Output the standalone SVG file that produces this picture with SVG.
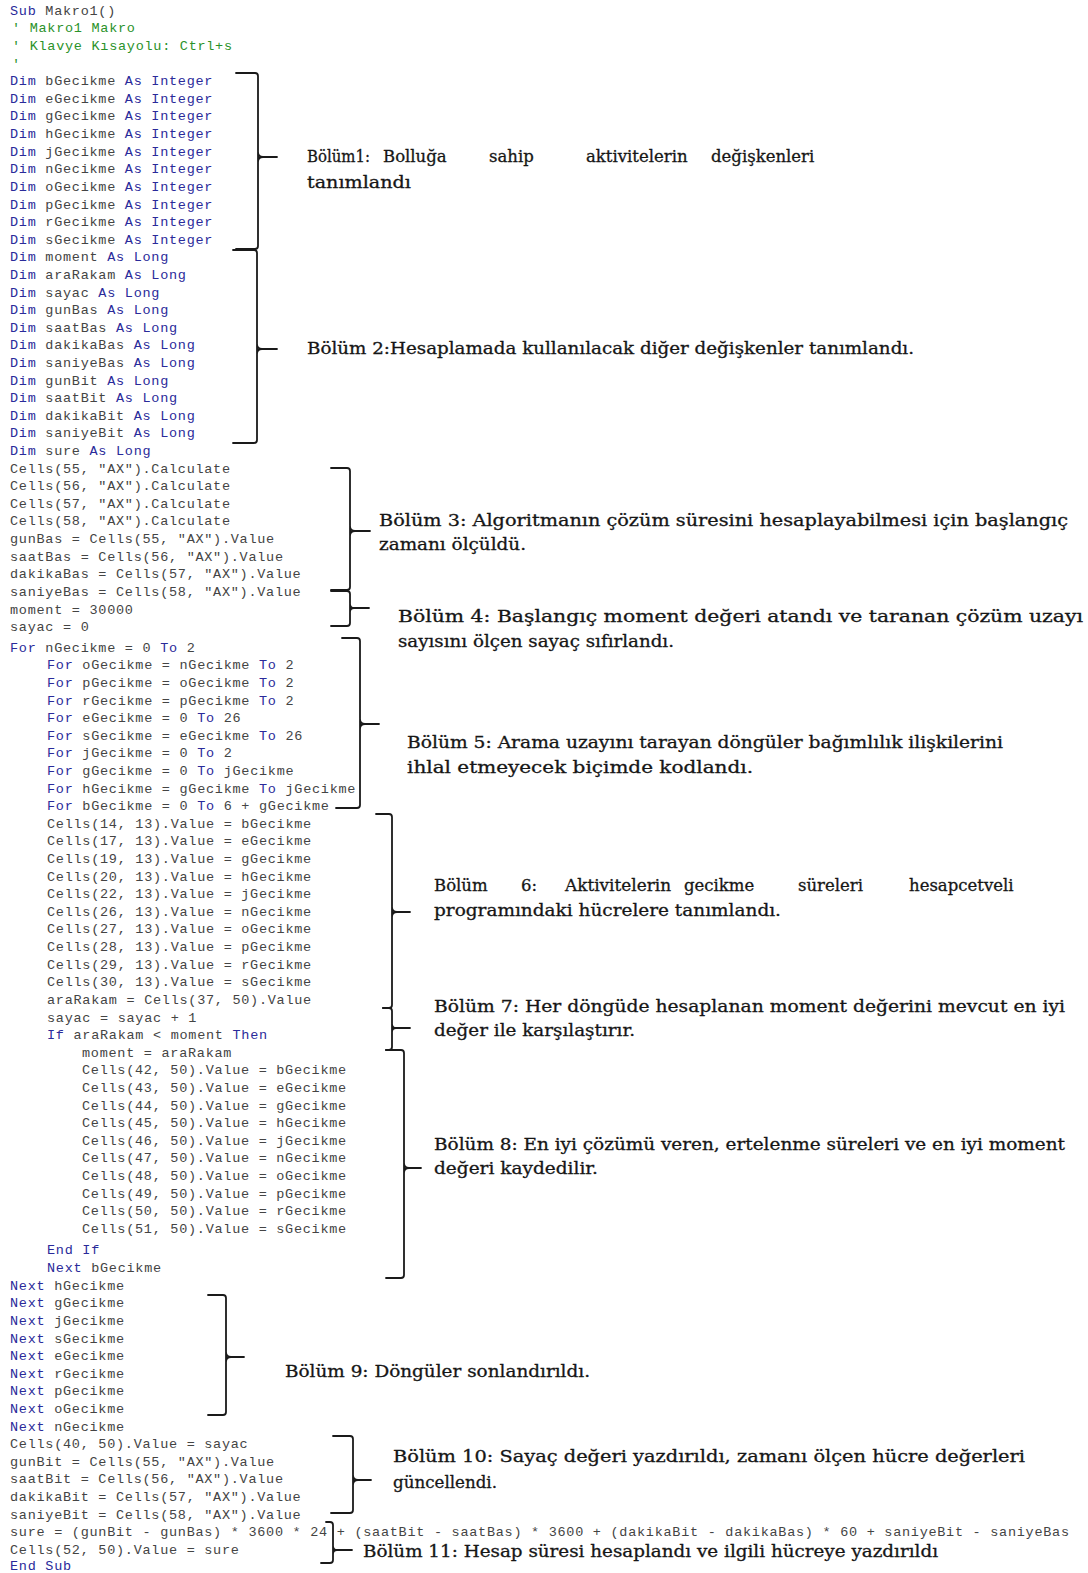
<svg xmlns="http://www.w3.org/2000/svg" width="1088" height="1573" viewBox="0 0 1088 1573">
<style>
.code{font-family:"Liberation Mono","DejaVu Sans Mono",monospace;font-size:13.5px;letter-spacing:0.73px;fill:#444444}
.k{fill:#2a2a9a}
.g{fill:#2a922a}
.br{fill:none;stroke:#1a1a1a;stroke-width:1.8;stroke-linecap:round;stroke-linejoin:round}
.ann{font-family:"DejaVu Serif","Liberation Serif",serif;font-size:16.5px;fill:#161616;stroke:#161616;stroke-width:0.3}
</style>
<rect width="1088" height="1573" fill="#ffffff"/>
<g id="code" class="code">
<text x="10" y="14.8"><tspan class="k">Sub</tspan> Makro1()</text>
<text x="12" y="32.4" class="g">' Makro1 Makro</text>
<text x="12" y="50" class="g">' Klavye Kısayolu: Ctrl+s</text>
<text x="12" y="67.6" class="g">'</text>
<text x="10" y="85.2"><tspan class="k">Dim</tspan> bGecikme <tspan class="k">As Integer</tspan></text>
<text x="10" y="102.8"><tspan class="k">Dim</tspan> eGecikme <tspan class="k">As Integer</tspan></text>
<text x="10" y="120.4"><tspan class="k">Dim</tspan> gGecikme <tspan class="k">As Integer</tspan></text>
<text x="10" y="138"><tspan class="k">Dim</tspan> hGecikme <tspan class="k">As Integer</tspan></text>
<text x="10" y="155.7"><tspan class="k">Dim</tspan> jGecikme <tspan class="k">As Integer</tspan></text>
<text x="10" y="173.3"><tspan class="k">Dim</tspan> nGecikme <tspan class="k">As Integer</tspan></text>
<text x="10" y="190.9"><tspan class="k">Dim</tspan> oGecikme <tspan class="k">As Integer</tspan></text>
<text x="10" y="208.5"><tspan class="k">Dim</tspan> pGecikme <tspan class="k">As Integer</tspan></text>
<text x="10" y="226.1"><tspan class="k">Dim</tspan> rGecikme <tspan class="k">As Integer</tspan></text>
<text x="10" y="243.7"><tspan class="k">Dim</tspan> sGecikme <tspan class="k">As Integer</tspan></text>
<text x="10" y="261.3"><tspan class="k">Dim</tspan> moment <tspan class="k">As Long</tspan></text>
<text x="10" y="278.9"><tspan class="k">Dim</tspan> araRakam <tspan class="k">As Long</tspan></text>
<text x="10" y="296.5"><tspan class="k">Dim</tspan> sayac <tspan class="k">As Long</tspan></text>
<text x="10" y="314.1"><tspan class="k">Dim</tspan> gunBas <tspan class="k">As Long</tspan></text>
<text x="10" y="331.7"><tspan class="k">Dim</tspan> saatBas <tspan class="k">As Long</tspan></text>
<text x="10" y="349.4"><tspan class="k">Dim</tspan> dakikaBas <tspan class="k">As Long</tspan></text>
<text x="10" y="367"><tspan class="k">Dim</tspan> saniyeBas <tspan class="k">As Long</tspan></text>
<text x="10" y="384.6"><tspan class="k">Dim</tspan> gunBit <tspan class="k">As Long</tspan></text>
<text x="10" y="402.2"><tspan class="k">Dim</tspan> saatBit <tspan class="k">As Long</tspan></text>
<text x="10" y="419.8"><tspan class="k">Dim</tspan> dakikaBit <tspan class="k">As Long</tspan></text>
<text x="10" y="437.4"><tspan class="k">Dim</tspan> saniyeBit <tspan class="k">As Long</tspan></text>
<text x="10" y="455"><tspan class="k">Dim</tspan> sure <tspan class="k">As Long</tspan></text>
<text x="10" y="472.6">Cells(55, "AX").Calculate</text>
<text x="10" y="490.2">Cells(56, "AX").Calculate</text>
<text x="10" y="507.8">Cells(57, "AX").Calculate</text>
<text x="10" y="525.4">Cells(58, "AX").Calculate</text>
<text x="10" y="543">gunBas = Cells(55, "AX").Value</text>
<text x="10" y="560.7">saatBas = Cells(56, "AX").Value</text>
<text x="10" y="578.3">dakikaBas = Cells(57, "AX").Value</text>
<text x="10" y="595.9">saniyeBas = Cells(58, "AX").Value</text>
<text x="10" y="613.5">moment = 30000</text>
<text x="10" y="631.1">sayac = 0</text>
<text x="10" y="651.7"><tspan class="k">For</tspan> nGecikme = 0 <tspan class="k">To</tspan> 2</text>
<text x="47" y="669.3"><tspan class="k">For</tspan> oGecikme = nGecikme <tspan class="k">To</tspan> 2</text>
<text x="47" y="686.9"><tspan class="k">For</tspan> pGecikme = oGecikme <tspan class="k">To</tspan> 2</text>
<text x="47" y="704.5"><tspan class="k">For</tspan> rGecikme = pGecikme <tspan class="k">To</tspan> 2</text>
<text x="47" y="722.1"><tspan class="k">For</tspan> eGecikme = 0 <tspan class="k">To</tspan> 26</text>
<text x="47" y="739.7"><tspan class="k">For</tspan> sGecikme = eGecikme <tspan class="k">To</tspan> 26</text>
<text x="47" y="757.4"><tspan class="k">For</tspan> jGecikme = 0 <tspan class="k">To</tspan> 2</text>
<text x="47" y="775"><tspan class="k">For</tspan> gGecikme = 0 <tspan class="k">To</tspan> jGecikme</text>
<text x="47" y="792.6"><tspan class="k">For</tspan> hGecikme = gGecikme <tspan class="k">To</tspan> jGecikme</text>
<text x="47" y="810.2"><tspan class="k">For</tspan> bGecikme = 0 <tspan class="k">To</tspan> 6 + gGecikme</text>
<text x="47" y="827.8">Cells(14, 13).Value = bGecikme</text>
<text x="47" y="845.4">Cells(17, 13).Value = eGecikme</text>
<text x="47" y="863">Cells(19, 13).Value = gGecikme</text>
<text x="47" y="880.6">Cells(20, 13).Value = hGecikme</text>
<text x="47" y="898.2">Cells(22, 13).Value = jGecikme</text>
<text x="47" y="915.8">Cells(26, 13).Value = nGecikme</text>
<text x="47" y="933.4">Cells(27, 13).Value = oGecikme</text>
<text x="47" y="951.1">Cells(28, 13).Value = pGecikme</text>
<text x="47" y="968.7">Cells(29, 13).Value = rGecikme</text>
<text x="47" y="986.3">Cells(30, 13).Value = sGecikme</text>
<text x="47" y="1003.9">araRakam = Cells(37, 50).Value</text>
<text x="47" y="1021.5">sayac = sayac + 1</text>
<text x="47" y="1039.1"><tspan class="k">If</tspan> araRakam &lt; moment <tspan class="k">Then</tspan></text>
<text x="82" y="1056.7">moment = araRakam</text>
<text x="82" y="1074.3">Cells(42, 50).Value = bGecikme</text>
<text x="82" y="1091.9">Cells(43, 50).Value = eGecikme</text>
<text x="82" y="1109.5">Cells(44, 50).Value = gGecikme</text>
<text x="82" y="1127.1">Cells(45, 50).Value = hGecikme</text>
<text x="82" y="1144.7">Cells(46, 50).Value = jGecikme</text>
<text x="82" y="1162.4">Cells(47, 50).Value = nGecikme</text>
<text x="82" y="1180">Cells(48, 50).Value = oGecikme</text>
<text x="82" y="1197.6">Cells(49, 50).Value = pGecikme</text>
<text x="82" y="1215.2">Cells(50, 50).Value = rGecikme</text>
<text x="82" y="1232.8">Cells(51, 50).Value = sGecikme</text>
<text x="47" y="1254.4" class="k">End If</text>
<text x="47" y="1272"><tspan class="k">Next</tspan> bGecikme</text>
<text x="10" y="1289.6"><tspan class="k">Next</tspan> hGecikme</text>
<text x="10" y="1307.2"><tspan class="k">Next</tspan> gGecikme</text>
<text x="10" y="1324.8"><tspan class="k">Next</tspan> jGecikme</text>
<text x="10" y="1342.5"><tspan class="k">Next</tspan> sGecikme</text>
<text x="10" y="1360.1"><tspan class="k">Next</tspan> eGecikme</text>
<text x="10" y="1377.7"><tspan class="k">Next</tspan> rGecikme</text>
<text x="10" y="1395.3"><tspan class="k">Next</tspan> pGecikme</text>
<text x="10" y="1412.9"><tspan class="k">Next</tspan> oGecikme</text>
<text x="10" y="1430.5"><tspan class="k">Next</tspan> nGecikme</text>
<text x="10" y="1448.1">Cells(40, 50).Value = sayac</text>
<text x="10" y="1465.7">gunBit = Cells(55, "AX").Value</text>
<text x="10" y="1483.3">saatBit = Cells(56, "AX").Value</text>
<text x="10" y="1500.9">dakikaBit = Cells(57, "AX").Value</text>
<text x="10" y="1518.5">saniyeBit = Cells(58, "AX").Value</text>
<text x="10" y="1536.1">sure = (gunBit - gunBas) * 3600 * 24 + (saatBit - saatBas) * 3600 + (dakikaBit - dakikaBas) * 60 + saniyeBit - saniyeBas</text>
<text x="10" y="1553.8">Cells(52, 50).Value = sure</text>
<text x="10" y="1570" class="k">End Sub</text>
</g>
<g id="connectors" class="br">
<path d="M236 73 H255 Q258 73 258 76 V246 Q258 249 255 249 H236 M258 152 Q258 157 263 157 H277 M258 162 Q258 157 263 157"/>
<path d="M233 250 H254 Q257 250 257 253 V440 Q257 443 254 443 H233 M257 344 Q257 349 262 349 H277 M257 354 Q257 349 262 349"/>
<path d="M331 468 H347 Q350 468 350 471 V587 Q350 590 347 590 H331 M350 526 Q350 531 355 531 H370 M350 536 Q350 531 355 531"/>
<path d="M331 591 H347 Q350 591 350 594 V623 Q350 626 347 626 H331 M350 604 Q350 608 354 608 H369 M350 612 Q350 608 354 608"/>
<path d="M342 638 H357 Q360 638 360 641 V805 Q360 808 357 808 H336 M360 719 Q360 724 365 724 H379 M360 729 Q360 724 365 724"/>
<path d="M376 814 H389 Q392 814 392 817 V1005 Q392 1008 389 1008 H383 M392 907 Q392 912 397 912 H410 M392 917 Q392 912 397 912"/>
<path d="M383 1008 H389 Q392 1008 392 1011 V1047 Q392 1050 389 1050 H386 M392 1024 Q392 1028 396 1028 H410 M392 1032 Q392 1028 396 1028"/>
<path d="M386 1050 H401 Q404 1050 404 1053 V1275 Q404 1278 401 1278 H386 M404 1163 Q404 1168 409 1168 H421 M404 1173 Q404 1168 409 1168"/>
<path d="M208 1295 H223 Q226 1295 226 1298 V1412 Q226 1415 223 1415 H208 M226 1352 Q226 1357 231 1357 H244 M226 1362 Q226 1357 231 1357"/>
<path d="M333 1436 H350 Q353 1436 353 1439 V1510 Q353 1513 350 1513 H331 M353 1475 Q353 1480 358 1480 H371 M353 1485 Q353 1480 358 1480"/>
<path d="M326 1522 H330 Q333 1522 333 1525 V1560 Q333 1563 330 1563 H321 M333 1546 Q333 1550 337 1550 H352 M333 1554 Q333 1550 337 1550"/>
</g>
<g id="bolum1" class="ann">
<text x="307" y="162" textLength="63" lengthAdjust="spacingAndGlyphs">Bölüm1:</text>
<text x="383" y="162">Bolluğa</text>
<text x="489" y="162">sahip</text>
<text x="586" y="162">aktivitelerin</text>
<text x="711" y="162">değişkenleri</text>
<text x="307" y="187.5" textLength="104" lengthAdjust="spacingAndGlyphs">tanımlandı</text>
</g>
<g id="bolum2" class="ann">
<text x="307" y="354" textLength="607" lengthAdjust="spacingAndGlyphs">Bölüm 2:Hesaplamada kullanılacak diğer değişkenler tanımlandı.</text>
</g>
<g id="bolum3" class="ann">
<text x="379" y="525.5" textLength="689" lengthAdjust="spacingAndGlyphs">Bölüm 3: Algoritmanın çözüm süresini hesaplayabilmesi için başlangıç</text>
<text x="379" y="550" textLength="147" lengthAdjust="spacingAndGlyphs">zamanı ölçüldü.</text>
</g>
<g id="bolum4" class="ann">
<text x="398" y="621.5" textLength="685" lengthAdjust="spacingAndGlyphs">Bölüm 4: Başlangıç moment değeri atandı ve taranan çözüm uzayı</text>
<text x="398" y="647" textLength="276" lengthAdjust="spacingAndGlyphs">sayısını ölçen sayaç sıfırlandı.</text>
</g>
<g id="bolum5" class="ann">
<text x="407" y="748" textLength="596" lengthAdjust="spacingAndGlyphs">Bölüm 5: Arama uzayını tarayan döngüler bağımlılık ilişkilerini</text>
<text x="407" y="773" textLength="346" lengthAdjust="spacingAndGlyphs">ihlal etmeyecek biçimde kodlandı.</text>
</g>
<g id="bolum6" class="ann">
<text x="434" y="890.5">Bölüm</text>
<text x="521" y="890.5">6:</text>
<text x="565" y="890.5" textLength="106" lengthAdjust="spacingAndGlyphs">Aktivitelerin</text>
<text x="684" y="890.5">gecikme</text>
<text x="798" y="890.5">süreleri</text>
<text x="909" y="890.5">hesapcetveli</text>
<text x="434" y="915.5" textLength="347" lengthAdjust="spacingAndGlyphs">programındaki hücrelere tanımlandı.</text>
</g>
<g id="bolum7" class="ann">
<text x="434" y="1012" textLength="631" lengthAdjust="spacingAndGlyphs">Bölüm 7: Her döngüde hesaplanan moment değerini mevcut en iyi</text>
<text x="434" y="1036" textLength="201" lengthAdjust="spacingAndGlyphs">değer ile karşılaştırır.</text>
</g>
<g id="bolum8" class="ann">
<text x="434" y="1150" textLength="631" lengthAdjust="spacingAndGlyphs">Bölüm 8: En iyi çözümü veren, ertelenme süreleri ve en iyi moment</text>
<text x="434" y="1174" textLength="164" lengthAdjust="spacingAndGlyphs">değeri kaydedilir.</text>
</g>
<g id="bolum9" class="ann">
<text x="285" y="1377" textLength="305" lengthAdjust="spacingAndGlyphs">Bölüm 9: Döngüler sonlandırıldı.</text>
</g>
<g id="bolum10" class="ann">
<text x="393" y="1462" textLength="632" lengthAdjust="spacingAndGlyphs">Bölüm 10: Sayaç değeri yazdırıldı, zamanı ölçen hücre değerleri</text>
<text x="393" y="1488" textLength="104" lengthAdjust="spacingAndGlyphs">güncellendi.</text>
</g>
<g id="bolum11" class="ann">
<text x="363" y="1557" textLength="575" lengthAdjust="spacingAndGlyphs">Bölüm 11: Hesap süresi hesaplandı ve ilgili hücreye yazdırıldı</text>
</g>
</svg>
